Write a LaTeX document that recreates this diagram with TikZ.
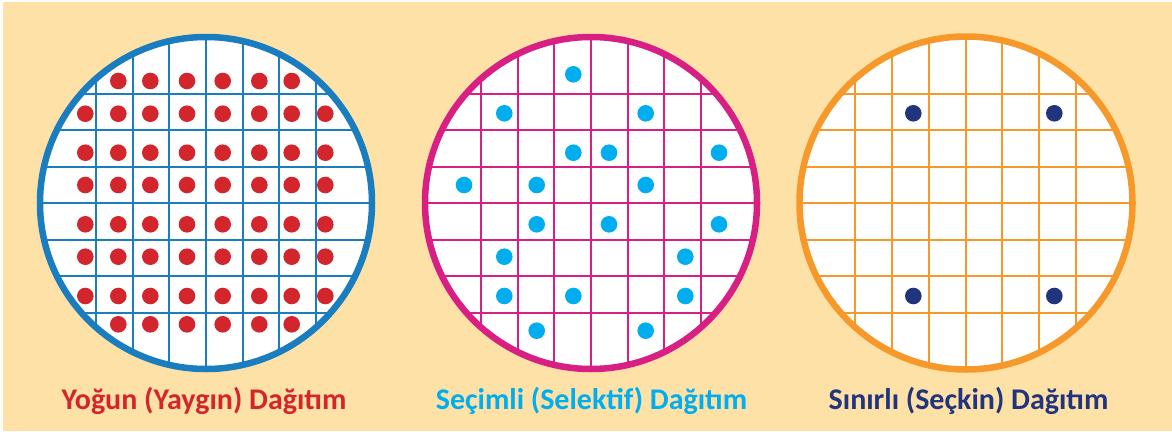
\documentclass[tikz,border=0pt]{standalone}
\usepackage{fontspec}
\setmainfont{Carlito}
\usetikzlibrary{positioning}
\definecolor{WaferBg}{HTML}{FEE1A6}
\definecolor{DenseBlue}{HTML}{1A7DC0}
\definecolor{DenseRed}{HTML}{D3262C}
\definecolor{SelectPink}{HTML}{D81F84}
\definecolor{SelectCyan}{HTML}{00AEEF}
\definecolor{LimitOrange}{HTML}{F7992A}
\definecolor{LimitNavy}{HTML}{21357F}

\begin{document}
\begin{tikzpicture}[x=1pt,y=-1pt,
    wafer/.style={line width=6.5pt},
    gridline/.style={line width=2pt},
    spot/.style={radius=8.3},
    caption/.style={anchor=base,inner sep=0pt,
      font=\fontsize{30}{33}\selectfont\bfseries}
  ]
  \fill[white] (0,0) rectangle (1172,431);
  \fill[WaferBg] (3,2) rectangle (1172,431);

  % dense wafer
  \fill[white] (206,203) circle (166);
  \begin{scope}
    \clip (206,203) circle (166);
    \foreach \k in {-3,...,3} {
      \draw[gridline,DenseBlue] (206+\k*36.7,30) -- (206+\k*36.7,380);
      \draw[gridline,DenseBlue] (30,203+\k*36.5) -- (390,203+\k*36.5);
    }
  \end{scope}
  \foreach \y in {113.7,152.7,185,224.3,256.7,296}
    \foreach \x in {85.3,118.3,150.3,187,222.7,259.3,291.7,325.3}
      \fill[DenseRed] (\x,\y) circle[spot];
  \foreach \y in {81,324.3}
    \foreach \x in {118.3,150.3,187,222.7,259.3,291.7}
      \fill[DenseRed] (\x,\y) circle[spot];
  \draw[wafer,DenseBlue] (206,203) circle (166);

  % selective wafer
  \fill[white] (591,203) circle (166);
  \begin{scope}
    \clip (591,203) circle (166);
    \foreach \k in {-3,...,3} {
      \draw[gridline,SelectPink] (591+\k*36.7,30) -- (591+\k*36.7,380);
      \draw[gridline,SelectPink] (415,203+\k*36.5) -- (770,203+\k*36.5);
    }
  \end{scope}
  \foreach \x/\y in {573.3/74.3, 504.3/113.3, 645.7/113.3,
      573.3/152.7, 609/152.7, 719/152.7,
      464/185, 536.7/185, 645.7/185,
      536.7/224.3, 609/224.3, 719/224.3,
      504.3/256.7, 685.3/256.7,
      504.3/296, 573.3/296, 685.3/296,
      536.7/330.7, 645.7/330.7}
    \fill[SelectCyan] (\x,\y) circle[spot];
  \draw[wafer,SelectPink] (591,203) circle (166);

  % limited wafer
  \fill[white] (966,203) circle (166.5);
  \begin{scope}
    \clip (966,203) circle (166.5);
    \foreach \k in {-3,...,3} {
      \draw[gridline,LimitOrange] (965.5+\k*36.8,30) -- (965.5+\k*36.8,380);
      \draw[gridline,LimitOrange] (790,203+\k*36.5) -- (1145,203+\k*36.5);
    }
  \end{scope}
  \foreach \x/\y in {913.3/113.3, 1054.3/113.3, 913.3/296, 1054.3/296}
    \fill[LimitNavy] (\x,\y) circle[spot];
  \draw[wafer,LimitOrange] (966,203) circle (166.5);

  \node[caption,text=DenseRed] (densecap) at (204,409) {Yoğun (Yaygın) Dağıtım};
  \node[caption,text=SelectCyan] (selectcap) at (591.5,409) {Seçimli (Selektif) Dağıtım};
  \node[caption,text=LimitNavy] (limitcap) at (968.5,409) {Sınırlı (Seçkin) Dağıtım};
\end{tikzpicture}
\end{document}
